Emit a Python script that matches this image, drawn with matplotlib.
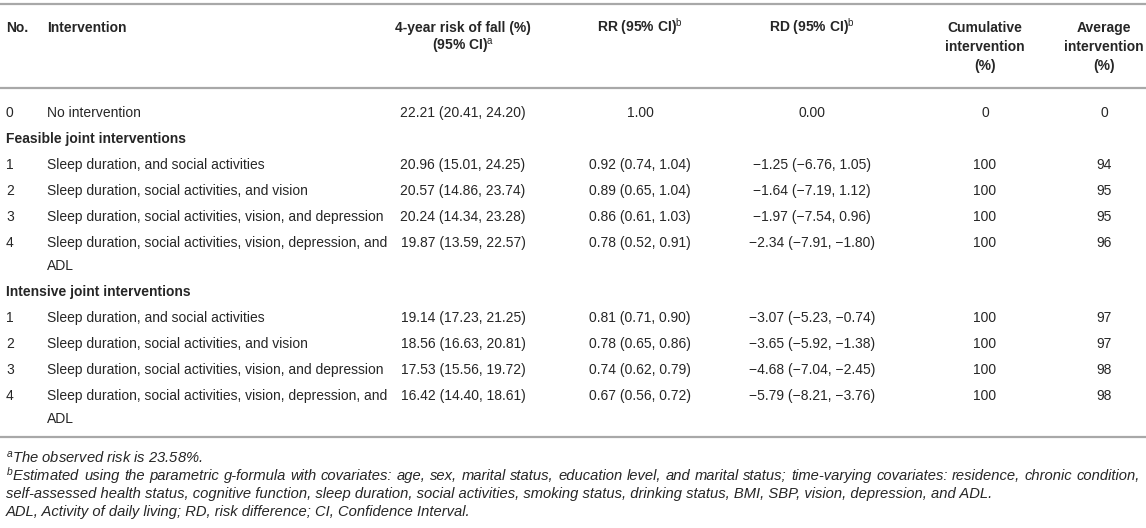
import matplotlib
matplotlib.use('Agg')
import matplotlib.pyplot as plt

plt.rcParams['font.family'] = ['Liberation Sans', 'DejaVu Sans']
plt.rcParams['mathtext.fontset'] = 'custom'
plt.rcParams['mathtext.rm'] = 'Liberation Sans'
plt.rcParams['mathtext.it'] = 'Liberation Sans:italic'
plt.rcParams['mathtext.bf'] = 'Liberation Sans:bold'

# ---- table data ----
headers = [['No.'], ['Intervention'], ['4-year risk of fall (%)', r'(95% CI)$^{\mathrm{a}}$'],
           [r'RR (95% CI)$^{\mathrm{b}}$'], [r'RD (95% CI)$^{\mathrm{b}}$'],
           ['Cumulative', 'intervention', '(%)'], ['Average', 'intervention', '(%)']]

sections = ['Feasible joint interventions', 'Intensive joint interventions']

row_no = ['0', '1', '2', '3', '4', '1', '2', '3', '4']
row_section = [None, 0, 0, 0, 0, 1, 1, 1, 1]
interventions = [
    ['No intervention'],
    ['Sleep duration, and social activities'],
    ['Sleep duration, social activities, and vision'],
    ['Sleep duration, social activities, vision, and depression'],
    ['Sleep duration, social activities, vision, depression, and', 'ADL'],
    ['Sleep duration, and social activities'],
    ['Sleep duration, social activities, and vision'],
    ['Sleep duration, social activities, vision, and depression'],
    ['Sleep duration, social activities, vision, depression, and', 'ADL'],
]
risk = ['22.21 (20.41, 24.20)', '20.96 (15.01, 24.25)', '20.57 (14.86, 23.74)',
        '20.24 (14.34, 23.28)', '19.87 (13.59, 22.57)', '19.14 (17.23, 21.25)',
        '18.56 (16.63, 20.81)', '17.53 (15.56, 19.72)', '16.42 (14.40, 18.61)']
rr = ['1.00', '0.92 (0.74, 1.04)', '0.89 (0.65, 1.04)', '0.86 (0.61, 1.03)',
      '0.78 (0.52, 0.91)', '0.81 (0.71, 0.90)', '0.78 (0.65, 0.86)',
      '0.74 (0.62, 0.79)', '0.67 (0.56, 0.72)']
rd = ['0.00', '\u22121.25 (\u22126.76, 1.05)', '\u22121.64 (\u22127.19, 1.12)',
      '\u22121.97 (\u22127.54, 0.96)', '\u22122.34 (\u22127.91, \u22121.80)',
      '\u22123.07 (\u22125.23, \u22120.74)', '\u22123.65 (\u22125.92, \u22121.38)',
      '\u22124.68 (\u22127.04, \u22122.45)', '\u22125.79 (\u22128.21, \u22123.76)']
cumulative = ['0', '100', '100', '100', '100', '100', '100', '100', '100']
average = ['0', '94', '95', '95', '96', '97', '97', '98', '98']

footnote_a = 'The observed risk is 23.58%.'
footnote_b = ['Estimated using the parametric g-formula with covariates: age, sex, marital status, '
              'education level, and marital status; time-varying covariates: residence, chronic condition,',
              'self-assessed health status, cognitive function, sleep duration, social activities, '
              'smoking status, drinking status, BMI, SBP, vision, depression, and ADL.']
footnote_c = 'ADL, Activity of daily living; RD, risk difference; CI, Confidence Interval.'

# ---- layout (pixels) ----
W, H = 1146, 528
FS = 10.0         # pt, ~13.9 px
FS_NOTE = 10.6
TXT = '#262626'
RULE = '#a8a8a8'
col_x = [6, 47, 463, 640, 812, 985, 1104]
col_ha = ['left', 'left', 'center', 'center', 'center', 'center', 'center']
PITCH, LINE = 26, 23

fig = plt.figure(figsize=(W / 100, H / 100), dpi=100)
ax = fig.add_axes([0, 0, 1, 1])
ax.set_xlim(0, W)
ax.set_ylim(H, 0)
ax.axis('off')


def put(x, yc, s, ha='left', weight='normal', style='normal', size=FS):
    # yc is the visual centre of the line, baseline sits a bit lower
    off = size / 0.72 * 0.36
    return ax.text(x, yc + off, s, ha=ha, va='baseline', fontsize=size,
                   fontweight=weight, fontstyle=style, color=TXT)


ax.axhline(4, color=RULE, lw=1.6)
for j, lines in enumerate(headers):
    for k, s in enumerate(lines):
        put(col_x[j], 27 + k * 19, s, ha=col_ha[j], weight='bold')
ax.axhline(88, color=RULE, lw=1.6)

y = 112
last_sec = None
for i in range(len(row_no)):
    if row_section[i] is not None and row_section[i] != last_sec:
        last_sec = row_section[i]
        put(col_x[0], y, sections[last_sec], weight='bold')
        y += PITCH
    cells = [row_no[i], None, risk[i], rr[i], rd[i], cumulative[i], average[i]]
    for j, s in enumerate(cells):
        if s is not None:
            put(col_x[j], y, s, ha=col_ha[j])
    for k, s in enumerate(interventions[i]):
        put(col_x[1], y + k * LINE, s)
    y += PITCH + LINE * (len(interventions[i]) - 1)

bottom = y - PITCH + 19
ax.axhline(bottom, color=RULE, lw=1.6)

# ---- footnotes, justified like the journal layout ----
fig.canvas.draw()
rend = fig.canvas.get_renderer()
inv = ax.transData.inverted()


def width_of(t):
    bb = t.get_window_extent(rend)
    return inv.transform((bb.x1, 0))[0] - inv.transform((bb.x0, 0))[0]


def justified(yc, words, x0=6, x1=1140):
    objs = [put(x0, yc, w, style='italic', size=FS_NOTE) for w in words]
    widths = [width_of(t) for t in objs]
    gap = (x1 - x0 - sum(widths)) / (len(words) - 1)
    x = x0
    for t, w in zip(objs, widths):
        t.set_x(x)
        x += w + gap


ny = bottom + 20
put(6, ny, r'$^{a}$' + footnote_a, style='italic', size=FS_NOTE)
ny += 18
words = footnote_b[0].split(' ')
words[0] = r'$^{b}$' + words[0]
justified(ny, words)
ny += 18
put(6, ny, footnote_b[1], style='italic', size=FS_NOTE)
ny += 18
put(6, ny, footnote_c, style='italic', size=FS_NOTE)

fig.savefig('out.png', dpi=100)
